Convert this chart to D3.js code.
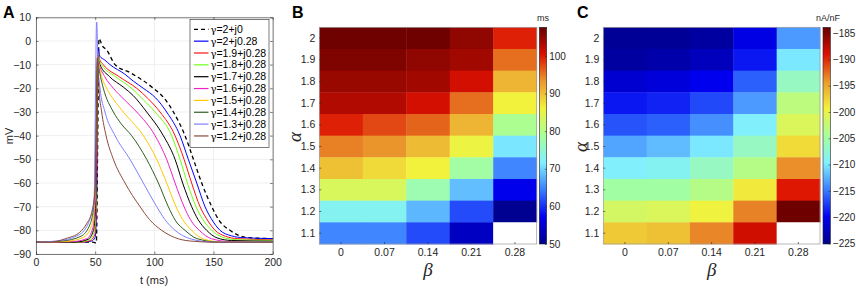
<!DOCTYPE html>
<html lang="en">
  <head>
    <title>Fractional AP traces and heat maps</title>
    <script src="https://d3js.org/d3.v7.min.js"></script>
    <style>
      body {
        margin: 0;
        background: #fff;
      }

      svg {
        display: block;
        font-family: 'Liberation Sans', Arial, sans-serif;
      }

      .tick text {
        font-size: 10px;
        fill: #262626;
      }

      .domain, .tick line {
        stroke: #262626;
        stroke-width: 0.6;
      }

      .grid line {
        stroke: #e4e4e4;
        stroke-width: 0.6;
      }

      .panel {
        font-size: 16px;
        font-weight: bold;
      }

      .greek {
        font-family: 'Liberation Serif', 'DejaVu Serif', serif;
        font-style: italic;
        font-size: 19px;
        fill: #262626;
      }
    </style>
  </head>
  <body>
    <script>
      // panel A traces, [t (ms), V (mV)]
      const gamma2j0 = [[0,-85],[48,-85],[51,-85.3],[52.2,-40],[53.2,1],[56,-2],[59.7,-3.8],[66.8,-10],[80,-13.5],[99.2,-20],[108,-24],[116.1,-30],[125.9,-40],[133,-50],[140,-60],[148.5,-70],[155,-76],[163.9,-80],[178,-83],[200,-83.5]];
      const gamma20 = [[0,-85],[40,-85],[47,-84.5],[50,-83],[51.2,-70],[52.6,-3],[54,-6.5],[58,-8],[62.5,-10],[75,-14],[82.3,-17],[90.7,-20],[101,-24],[110.4,-30],[121.7,-40],[128.7,-50],[135.8,-60],[142.8,-70],[148,-75],[155.5,-80],[165,-82.3],[175,-83.1],[200,-83.5]];
      const gamma19 = [[0,-85],[38,-85],[46,-84.3],[49.5,-82],[51,-70],[52.3,-5],[53.5,-7.5],[56.9,-10],[70,-15],[85.1,-20],[95,-24.5],[104.8,-30],[117.5,-40],[125.1,-50],[131.5,-60],[138.6,-70],[144,-75],[151.3,-80],[160,-82.5],[170,-83.5],[200,-84]];
      const gamma18 = [[0,-85],[35,-85],[45,-84],[49,-81],[50.7,-70],[52.2,-5.5],[53.3,-8],[55.5,-10],[67,-15],[80.8,-20],[91,-25],[100.6,-30],[114.6,-40],[121.7,-50],[127.9,-60],[135.2,-70],[141,-75.5],[148.5,-80],[158,-83],[170,-84],[200,-84.2]];
      const gamma17 = [[0,-85],[32,-85],[44,-83.8],[48.5,-80],[50.5,-68],[52.1,-6],[53,-8.5],[54.1,-10],[62,-15],[73.8,-19.5],[82,-23],[93.5,-30],[107.6,-40],[117.5,-50],[123.9,-60],[131.5,-70],[137,-75.5],[144.2,-80],[153,-83.2],[165,-84.3],[200,-84.6]];
      const gamma16 = [[0,-85],[30,-84.8],[43,-83.5],[48,-79],[50.2,-66],[52,-6.5],[53,-9],[53.5,-10],[58,-15],[65.4,-20],[75,-25],[85.1,-30],[100.6,-40],[110.4,-50],[117.5,-60],[125.1,-70],[130.5,-75.5],[138,-80],[148,-83.5],[165,-84.8],[200,-85]];
      const gamma15 = [[0,-85],[25,-84.7],[40,-83],[47,-78],[49.8,-66],[52,-6.5],[53.2,-10],[55.5,-15],[59.7,-20],[66,-25],[73.8,-30],[90.7,-40],[102,-50],[110.4,-60],[118.3,-70],[124,-75.5],[131.5,-80],[142,-83.8],[160,-85],[200,-85]];
      const gamma14 = [[0,-85],[22,-84.5],[38,-82.5],[46,-77],[49.5,-66],[52,-7],[52.7,-10],[54.5,-15],[56.9,-20],[65.4,-30],[72,-35],[80.8,-40],[93.5,-50],[103.4,-60],[111.8,-70],[118,-76],[125.9,-80],[136,-83.5],[155,-85],[200,-85]];
      const gamma13 = [[0,-85],[18,-84.5],[36,-82],[45,-76],[49,-68],[51.3,8],[52.4,-10],[54.1,-20],[58.3,-30],[66.8,-40],[79.4,-50],[90.7,-60],[102,-70],[109,-75.5],[117.5,-80],[130,-83.5],[150,-85],[200,-85]];
      const gamma12 = [[0,-85],[12,-85],[25,-83.5],[37,-80.8],[43,-77],[47,-72.5],[50,-62],[52.1,-7],[52.4,-10],[53.2,-20],[55.5,-30],[59.2,-40],[65.4,-50],[75.2,-60],[87.9,-70],[96,-75.5],[106.2,-80],[117,-83],[130,-84.5],[150,-85],[200,-85]];

      const traceLabels = ['2+j0', '2+j0.28', '1.9+j0.28', '1.8+j0.28', '1.7+j0.28', '1.6+j0.28', '1.5+j0.28', '1.4+j0.28', '1.3+j0.28', '1.2+j0.28'];
      const timeTicks = [0, 50, 100, 150, 200];
      const voltTicks = [-90, -80, -70, -60, -50, -40, -30, -20, -10, 0, 10];

      // panels B and C, rows alpha = 2 ... 1.1, columns beta
      const alphaLabels = ['2', '1.9', '1.8', '1.7', '1.6', '1.5', '1.4', '1.3', '1.2', '1.1'];
      const betaLabels = ['0', '0.07', '0.14', '0.21', '0.28'];
      const apdMs = [
        [107, 107, 107, 105, 99.5],
        [106, 106, 105, 104, 95.5],
        [104.5, 104.5, 104, 101, 91],
        [103, 103, 101, 95.5, 86],
        [99.5, 97.5, 96, 91, 79.5],
        [94.5, 93.5, 90.5, 85.5, 71],
        [90, 88, 86, 78, 65],
        [83.5, 83.5, 77, 68.5, 57],
        [72.5, 72.5, 68, 61.5, 50.5],
        [65, 65, 61.5, 54, NaN]
      ];
      const currentNAnF = [
        [-224.5, -224.5, -224, -220.5, -213.5],
        [-224, -223.5, -222.5, -219, -210],
        [-221.5, -221, -220, -216, -206.5],
        [-219, -218.5, -217, -213.5, -203],
        [-216.5, -216, -214, -209.5, -201],
        [-213, -212, -210, -206.5, -198],
        [-209.5, -209, -206.5, -203.5, -193.8],
        [-205, -205, -203.5, -198.8, -189.3],
        [-201.5, -201, -199.5, -193.3, -184.3],
        [-197, -196.5, -193.5, -188.5, NaN]
      ];
      const apdTicks = [50, 60, 70, 80, 90, 100];
      const currentTicks = [-225, -220, -215, -210, -205, -200, -195, -190, -185];

      const w = 856;
      const h = 288;

      const svg = d3.select('body')
                    .append('svg')
                    .attr('width', w)
                    .attr('height', h);

      // ---------- panel A ----------
      const traces = [gamma2j0, gamma20, gamma19, gamma18, gamma17, gamma16, gamma15, gamma14, gamma13, gamma12];
      const traceColors = ['#000000', '#0000ff', '#ff1010', '#70ff10', '#000000', '#f020c8', '#ffc800', '#2e5e1e', '#8080ff', '#8b4a3a'];

      const xA = d3.scaleLinear().domain([0, 200]).range([36, 272.7]);
      const yA = d3.scaleLinear().domain([-90, 10]).range([254, 17.3]);

      const gA = svg.append('g');

      const grid = gA.append('g').attr('class', 'grid');
      grid.selectAll('line.h')
        .data(voltTicks)
        .enter()
        .append('line')
          .attr('class', 'h')
          .attr('x1', xA(0)).attr('x2', xA(200))
          .attr('y1', d => yA(d)).attr('y2', d => yA(d));
      grid.selectAll('line.v')
        .data(timeTicks)
        .enter()
        .append('line')
          .attr('class', 'v')
          .attr('y1', yA(-90)).attr('y2', yA(10))
          .attr('x1', d => xA(d)).attr('x2', d => xA(d));

      const line = d3.line()
                     .x(d => xA(d[0]))
                     .y(d => yA(d[1]))
                     .curve(d3.curveMonotoneX);

      gA.selectAll('path.trace')
        .data(traces)
        .enter()
        .append('path')
          .attr('class', 'trace')
          .attr('d', line)
          .attr('fill', 'none')
          .attr('stroke', (d, i) => traceColors[i])
          .attr('stroke-width', (d, i) => i === 0 ? 1.3 : 1)
          .attr('stroke-dasharray', (d, i) => i === 0 ? '4,3' : null);

      gA.append('g')
        .attr('transform', `translate(0, ${yA(-90)})`)
        .call(d3.axisBottom(xA).tickValues(timeTicks).tickSizeInner(-2.5).tickSizeOuter(0).tickPadding(5))
        .call(g => g.selectAll('text').style('font-size', '10.5px'));
      gA.append('g')
        .attr('transform', `translate(0, ${yA(10)})`)
        .call(d3.axisTop(xA).tickValues(timeTicks).tickSizeInner(-2.5).tickSizeOuter(0).tickFormat(''));
      gA.append('g')
        .attr('transform', `translate(${xA(0)}, 0)`)
        .call(d3.axisLeft(yA).tickValues(voltTicks).tickSizeInner(-2.5).tickSizeOuter(0).tickPadding(5))
        .call(g => g.selectAll('text').style('font-size', '10.5px'));
      gA.append('g')
        .attr('transform', `translate(${xA(200)}, 0)`)
        .call(d3.axisRight(yA).tickValues(voltTicks).tickSizeInner(-2.5).tickSizeOuter(0).tickFormat(''));

      gA.append('text')
        .attr('x', 154).attr('y', 284)
        .attr('text-anchor', 'middle')
        .style('font-size', '11px').style('fill', '#262626')
        .text('t (ms)');
      gA.append('text')
        .attr('transform', 'translate(13, 136) rotate(-90)')
        .attr('text-anchor', 'middle')
        .style('font-size', '11px').style('fill', '#262626')
        .text('mV');

      // legend
      const legend = gA.append('g').attr('transform', 'translate(190, 19.5)');
      legend.append('rect')
        .attr('width', 79).attr('height', 128)
        .attr('fill', '#fff')
        .attr('stroke', '#262626').attr('stroke-width', 0.6);
      const items = legend.selectAll('g.item')
        .data(traceLabels)
        .enter()
        .append('g')
          .attr('transform', (d, i) => `translate(0, ${9.8 + i * 11.85})`);
      items.append('line')
        .attr('x1', 4).attr('x2', 18.5)
        .attr('stroke', (d, i) => traceColors[i])
        .attr('stroke-width', (d, i) => i === 0 ? 1.3 : 1.2)
        .attr('stroke-dasharray', (d, i) => i === 0 ? '4,3' : null);
      const lt = items.append('text')
        .attr('x', 20.5).attr('y', 3.6)
        .style('font-size', '10.5px').style('fill', '#000');
      lt.append('tspan').style('font-family', "'DejaVu Serif', serif").style('font-size', '10px').text('γ');
      lt.append('tspan').text(d => '=' + d);

      // ---------- heat maps ----------
      const jetStops = [0, 0.125, 0.25, 0.375, 0.5, 0.625, 0.75, 0.875, 1];
      const jetColors = ['#00008a', '#0000f0', '#3a7dff', '#80f0ff', '#a6ff99', '#f2f23d', '#eb9a2e', '#dc1000', '#650000'];
      const jet = d3.scaleLinear().domain(jetStops).range(jetColors).interpolate(d3.interpolateRgb);

      function heatmap(opts) {
        const g = svg.append('g');
        const xB = d3.scaleBand().domain(betaLabels).range([opts.x0, opts.x1]);
        const yB = d3.scaleBand().domain(alphaLabels).range([27.3, 244]);
        const norm = d3.scaleLinear().domain(opts.domain).range([0, 1]);

        opts.values.forEach((row, r) => {
          g.selectAll(null)
            .data(row)
            .enter()
            .append('rect')
              .attr('x', (d, c) => xB(betaLabels[c]))
              .attr('y', yB(alphaLabels[r]))
              .attr('width', xB.bandwidth() + 0.4)
              .attr('height', yB.bandwidth() + 0.4)
              .attr('fill', d => isNaN(d) ? '#ffffff' : jet(norm(d)));
        });

        g.append('rect')
          .attr('x', opts.x0).attr('y', 27.3)
          .attr('width', opts.x1 - opts.x0).attr('height', 244 - 27.3)
          .attr('fill', 'none')
          .attr('stroke', '#9a9a9a').attr('stroke-width', 0.7);

        g.append('g')
          .attr('transform', 'translate(0, 244)')
          .call(d3.axisBottom(xB).tickSizeInner(-2).tickSizeOuter(0).tickPadding(5))
          .call(s => s.select('.domain').remove())
          .call(s => s.selectAll('text').style('font-size', '10.5px'));
        g.append('g')
          .attr('transform', `translate(${opts.x0}, 0)`)
          .call(d3.axisLeft(yB).tickSizeInner(-2).tickSizeOuter(0).tickPadding(4))
          .call(s => s.select('.domain').remove())
          .call(s => s.selectAll('text').style('font-size', '10.5px'));

        g.append('text')
          .attr('class', 'greek')
          .attr('x', (opts.x0 + opts.x1) / 2).attr('y', 276)
          .attr('text-anchor', 'middle')
          .text('β');
        g.append('text')
          .attr('class', 'greek')
          .attr('transform', `translate(${opts.alphaX}, ${opts.alphaY}) rotate(-90)`)
          .attr('text-anchor', 'middle')
          .text('α');

        // colour bar
        const gradId = 'grad' + opts.id;
        const grad = svg.append('defs').append('linearGradient')
          .attr('id', gradId)
          .attr('x1', 0).attr('y1', 1).attr('x2', 0).attr('y2', 0);
        grad.selectAll('stop')
          .data(jetStops)
          .enter()
          .append('stop')
            .attr('offset', d => d)
            .attr('stop-color', (d, i) => jetColors[i]);

        const yC = d3.scaleLinear().domain(opts.domain).range([244, 27.3]);
        g.append('rect')
          .attr('x', opts.cb).attr('y', 27.3)
          .attr('width', 7.4).attr('height', 244 - 27.3)
          .attr('fill', `url(#${gradId})`)
          .attr('stroke', '#262626').attr('stroke-width', 0.6);
        g.append('g')
          .attr('transform', `translate(${opts.cb + 7.4}, 0)`)
          .call(d3.axisRight(yC).tickValues(opts.ticks).tickSizeInner(-1.8).tickSizeOuter(0).tickPadding(2.5))
          .call(s => s.select('.domain').remove())
          .call(s => s.selectAll('text').style('font-size', '10px'));
        g.append('text')
          .attr('x', opts.unitX).attr('y', 21)
          .attr('text-anchor', 'middle')
          .style('font-size', '9px').style('fill', '#262626')
          .text(opts.unit);
      }

      heatmap({ id: 'B', values: apdMs, domain: [50, 107.6], ticks: apdTicks, unit: 'ms',
                x0: 319.3, x1: 536.7, cb: 539.3, unitX: 543, alphaX: 301, alphaY: 137 });
      heatmap({ id: 'C', values: currentNAnF, domain: [-225.1, -183.9], ticks: currentTicks, unit: 'nA/nF',
                x0: 603.3, x1: 820, cb: 823, unitX: 828, alphaX: 587, alphaY: 147 });

      // panel letters
      svg.selectAll('text.panel')
        .data([['A', 3], ['B', 292], ['C', 577]])
        .enter()
        .append('text')
          .attr('class', 'panel')
          .attr('x', d => d[1]).attr('y', 18)
          .text(d => d[0]);
    </script>
  </body>
</html>
